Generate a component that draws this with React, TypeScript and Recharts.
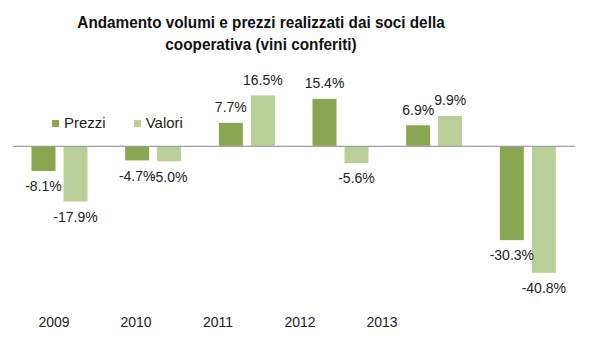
import React from 'react';
import { BarChart, Bar, XAxis, YAxis, ReferenceLine, LabelList } from 'recharts';

const years = ['2009', '2010', '2011', '2012', '2013', ''];
const prezzi = [-8.1, -4.7, 7.7, 15.4, 6.9, -30.3];
const valori = [-17.9, -5.0, 16.5, -5.6, 9.9, -40.8];
const seriesNames = ['Prezzi', 'Valori'];

const data = years.map((y, i) => ({ year: y, prezzi: prezzi[i], valori: valori[i] }));

const DARK = '#8BA651';
const LIGHT = '#BACF98';
const FONT = "'Liberation Sans', Arial, sans-serif";

const ValueLabel = (props: any) => {
  const { x, y, width, height, value } = props;
  const top = Math.min(y, y + height);
  const bottom = Math.max(y, y + height);
  const cx = x + width / 2;
  const ty = value < 0 ? bottom + 16 : top - 14;
  return (
    <text x={cx} y={ty} textAnchor="middle" dominantBaseline="middle" fontSize={14} fill="#222" fontFamily={FONT}>
      {value.toFixed(1) + '%'}
    </text>
  );
};

const LegendBox = () => {
  const colors = [DARK, LIGHT];
  return (
    <div
      style={{
        position: 'absolute',
        left: 52,
        top: 114,
        display: 'flex',
        fontFamily: FONT,
        fontSize: 15,
        lineHeight: '18px',
        color: '#222',
      }}
    >
      {seriesNames.map((n, i) => (
        <div key={n} style={{ display: 'flex', alignItems: 'center', marginRight: i === 0 ? 28 : 0 }}>
          <span style={{ display: 'inline-block', width: 7, height: 7, background: colors[i], marginRight: 5 }} />
          <span>{n}</span>
        </div>
      ))}
    </div>
  );
};

export default function App() {
  return (
    <div style={{ position: 'absolute', left: 0, top: 0, width: 598, height: 356, background: '#fff' }}>
      <div
        style={{
          position: 'absolute',
          left: 0,
          width: 522,
          top: 12,
          textAlign: 'center',
          fontFamily: FONT,
          fontWeight: 'bold',
          fontSize: 17,
          lineHeight: '22px',
          color: '#111',
          transform: 'scaleX(0.9)',
          transformOrigin: '261px 0',
        }}
      >
        Andamento volumi e prezzi realizzati dai soci della
        <br />
        cooperativa (vini conferiti)
      </div>
      <BarChart
        width={598}
        height={356}
        data={data}
        margin={{ top: 84, right: 23, bottom: 24, left: 13 }}
        barSize={25}
        barGap={7}
        style={{ position: 'absolute', left: 0, top: 0 }}
      >
        <XAxis dataKey="year" xAxisId="bars" hide height={0} />
        <XAxis
          dataKey="year"
          xAxisId="lbl"
          axisLine={false}
          tickLine={false}
          height={30}
          padding={{ left: 0, right: 70 }}
          tick={{ fontSize: 14, fill: '#222', fontFamily: FONT }}
          tickMargin={9}
        />
        <YAxis hide domain={[-50, 20]} />
        <ReferenceLine y={0} xAxisId="bars" stroke="#888" strokeWidth={1} />
        <Bar dataKey="prezzi" name={seriesNames[0]} xAxisId="bars" fill={DARK} stroke="#fff" strokeWidth={1} isAnimationActive={false}>
          <LabelList dataKey="prezzi" content={<ValueLabel />} />
        </Bar>
        <Bar dataKey="valori" name={seriesNames[1]} xAxisId="bars" fill={LIGHT} stroke="#fff" strokeWidth={1} isAnimationActive={false}>
          <LabelList dataKey="valori" content={<ValueLabel />} />
        </Bar>
      </BarChart>
      <LegendBox />
    </div>
  );
}
